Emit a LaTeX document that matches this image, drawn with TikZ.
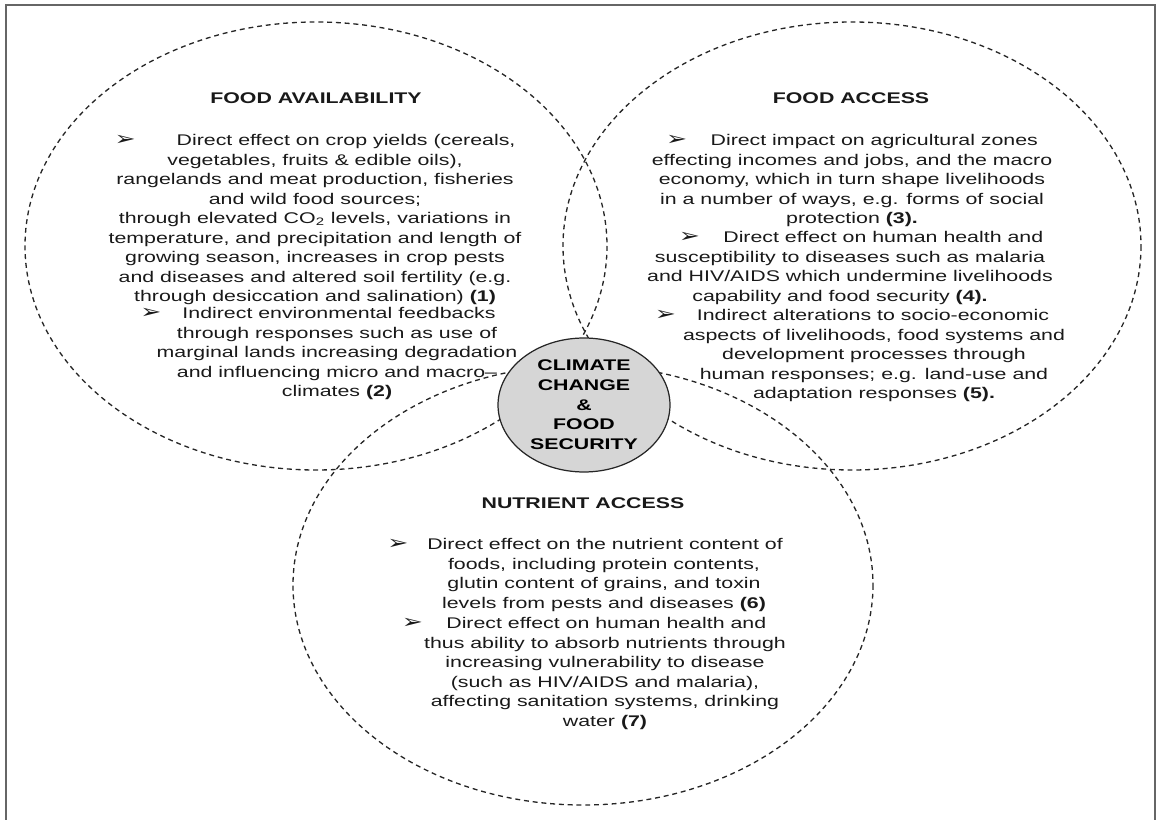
\documentclass[tikz,border=0pt]{standalone}
\usepackage{fontspec}
\setmainfont[FakeStretch=1.38]{Liberation Sans}
\newfontfamily\arrowfont[FakeStretch=1.3]{DejaVu Sans}
\newcommand{\bul}{{\arrowfont\fontsize{11}{11}\selectfont ➢}}
\usetikzlibrary{shapes.geometric}
\begin{document}
\begin{tikzpicture}[x=0.02cm, y=-0.02cm,
  ring/.style={draw=black!85, dash pattern=on 2.8pt off 2.2pt, line width=0.75pt},
  txt/.style={align=center, inner sep=0pt, anchor=north, text=black!90, font=\fontsize{8.8}{11.1}\selectfont},
  head/.style={inner sep=0pt, text=black!90, font=\fontsize{8.8}{11.1}\selectfont\bfseries}]
\useasboundingbox (0,0) rectangle (1157,820);
\draw[black!60, line width=0.8pt] (6,820) -- (6,5) -- (1155,5) -- (1155,820);

% the three dashed rings
\draw[ring] (316,246) ellipse [x radius=291, y radius=224];
\draw[ring] (852,246) ellipse [x radius=289, y radius=224];
\draw[ring] (583,585) ellipse [x radius=290, y radius=220];

\node[ellipse, draw=black!85, fill=black!16, line width=0.7pt, minimum width=3.44cm, minimum height=2.68cm,
  inner sep=0pt, align=center, font=\fontsize{8.8}{11.2}\selectfont\bfseries] (cc) at (584,405)
  {CLIMATE\\CHANGE\\\&\\FOOD\\SECURITY};

% food availability
\node[head] (avtitle) at (316,98) {FOOD AVAILABILITY};
\node[txt] (av1) at (315,134) {\bul\hspace{0.82cm}Direct effect on crop yields (cereals,\\ vegetables, fruits \& edible oils),\\ rangelands and meat production, fisheries\\ and wild food sources;\\ through elevated CO\textsubscript{2} levels, variations in\\ temperature, and precipitation and length of\\ growing season, increases in crop pests\\ and diseases and altered soil fertility (e.g.\\ through desiccation and salination) \textbf{(1)}};
\node[txt] (av2) at (337,307) {\bul\hspace{0.42cm}Indirect environmental feedbacks\hspace*{0.76cm}\\ through responses such as use of\\ marginal lands increasing degradation\\ and influencing micro and macro--\\ climates \textbf{(2)}};

% food access
\node[head] (actitle) at (851,98) {FOOD ACCESS};
\node[txt] (ac1) at (852,134) {\bul\hspace{0.47cm}Direct impact on agricultural zones\\ effecting incomes and jobs, and the macro\\ economy, which in turn shape livelihoods\\ in a number of ways, e.g. forms of social\\ protection \textbf{(3).}};
\node[txt] (ac2) at (850,231) {\hspace*{0.44cm}\bul\hspace{0.47cm}Direct effect on human health and\\ susceptibility to diseases such as malaria\\ and HIV/AIDS which undermine livelihoods\\ capability and food security \textbf{(4).}\hspace*{0.4cm}};
\node[txt] (ac3) at (874,309) {\bul\hspace{0.42cm}Indirect alterations to socio-economic\hspace*{0.88cm}\\ aspects of livelihoods, food systems and\\ development processes through\\ human responses; e.g. land-use and\\ adaptation responses \textbf{(5).}};

% nutrient access
\node[head] (nutitle) at (583,503) {NUTRIENT ACCESS};
\node[txt] (nu1) at (604,538) {\bul\hspace{0.38cm}Direct effect on the nutrient content of\hspace*{0.76cm}\\ foods, including protein contents,\\ glutin content of grains, and toxin\\ levels from pests and diseases \textbf{(6)}};
\node[txt] (nu2) at (605,617) {\bul\hspace{0.47cm}Direct effect on human health and\hspace*{0.84cm}\\ thus ability to absorb nutrients through\\ increasing vulnerability to disease\\ (such as HIV/AIDS and malaria),\\ affecting sanitation systems, drinking\\ water \textbf{(7)}};
\end{tikzpicture}
\end{document}
